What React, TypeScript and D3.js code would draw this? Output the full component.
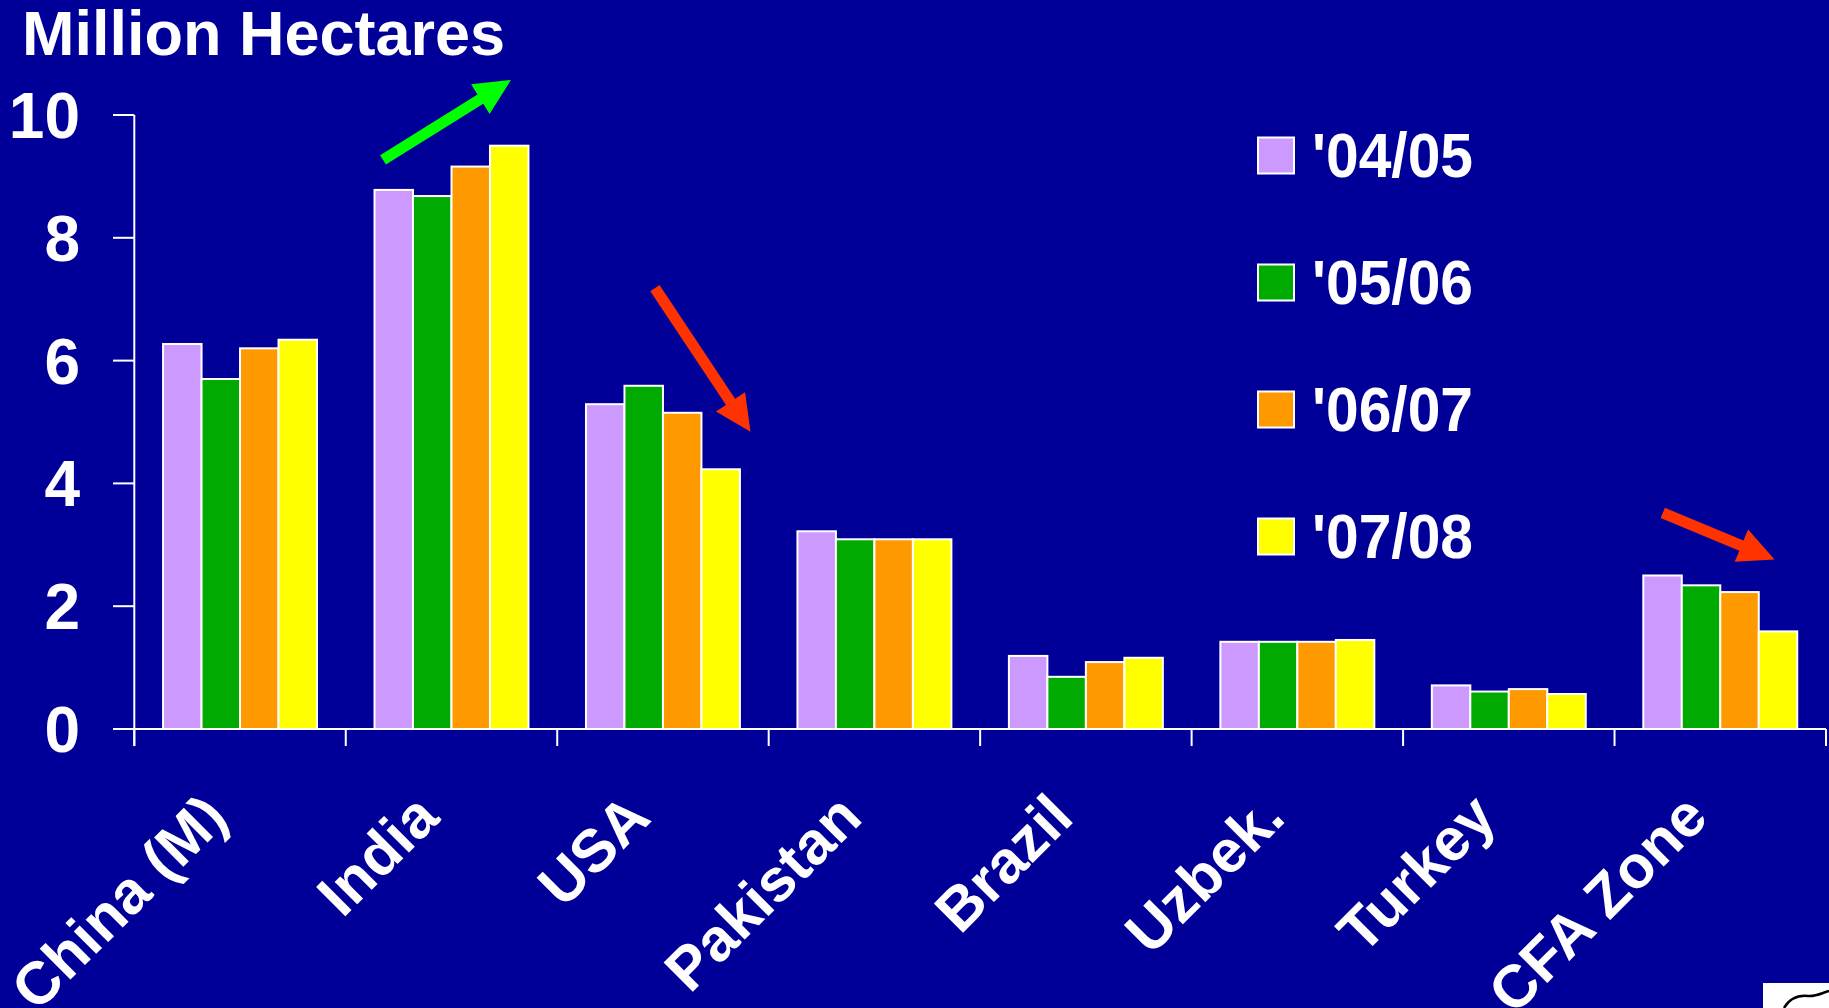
import React from "react";
import * as d3 from "d3";

const categories = ["China (M)", "India", "USA", "Pakistan", "Brazil", "Uzbek.", "Turkey", "CFA Zone"];
const seriesNames = ["'04/05", "'05/06", "'06/07", "'07/08"];
const s0405 = [6.27, 8.78, 5.29, 3.22, 1.19, 1.42, 0.71, 2.5];
const s0506 = [5.7, 8.68, 5.59, 3.09, 0.85, 1.42, 0.61, 2.34];
const s0607 = [6.2, 9.16, 5.15, 3.09, 1.09, 1.42, 0.65, 2.23];
const s0708 = [6.34, 9.5, 4.23, 3.09, 1.16, 1.45, 0.57, 1.59];
const seriesValues = [s0405, s0506, s0607, s0708];
const seriesColors = ["#CC99FF", "#00AA00", "#FF9900", "#FFFF00"];
const yTicks = [0, 2, 4, 6, 8, 10];
// annotation arrows in (category-index, value) space
const arrows = [
  { x1: 1.176, v1: 9.27, x2: 1.781, v2: 10.57, color: "#00FF00" },
  { x1: 2.462, v1: 7.18, x2: 2.914, v2: 4.84, color: "#FF3300" },
  { x1: 7.228, v1: 3.52, x2: 7.757, v2: 2.76, color: "#FF3300" },
];

const W = 1829;
const H = 1008;
const BG = "#000099";
const FONT = "'Liberation Sans', Arial, Helvetica, sans-serif";

function arrowPath(x1: number, y1: number, x2: number, y2: number) {
  const sw = 11, hl = 36, hw = 35;
  const dx = x2 - x1, dy = y2 - y1;
  const len = Math.hypot(dx, dy);
  const ux = dx / len, uy = dy / len;
  const nx = -uy, ny = ux;
  const bx = x2 - ux * hl, by = y2 - uy * hl;
  const pts = [
    [x1 + nx * sw / 2, y1 + ny * sw / 2],
    [bx + nx * sw / 2, by + ny * sw / 2],
    [bx + nx * hw / 2, by + ny * hw / 2],
    [x2, y2],
    [bx - nx * hw / 2, by - ny * hw / 2],
    [bx - nx * sw / 2, by - ny * sw / 2],
    [x1 - nx * sw / 2, y1 - ny * sw / 2],
  ];
  return "M" + pts.map((p) => p[0].toFixed(1) + "," + p[1].toFixed(1)).join("L") + "Z";
}

export default function App() {
  React.useEffect(() => {
    document.body.style.margin = "0";
  }, []);

  const left = 134.3;
  const right = 1826;
  const x0 = d3.scaleBand<string>().domain(categories).range([left, right]).paddingInner(0.272).paddingOuter(0.136);
  const x1 = d3.scaleBand<string>().domain(seriesNames).range([0, x0.bandwidth()]).padding(0);
  const xIdx = d3.scaleLinear().domain([0, categories.length]).range([left, right]);
  const y = d3.scaleLinear().domain([0, 10]).range([729, 115]);
  const y0 = y(0);

  return (
    <div style={{ position: "absolute", left: 0, top: 0, width: W, height: H }}>
      <svg width={W} height={H} style={{ display: "block", fontFamily: FONT }}>
        <rect x={0} y={0} width={W} height={H} fill={BG} />
        <text x={22} y={55} fill="#fff" fontSize={63} fontWeight="bold">Million Hectares</text>

        {/* bars */}
        {categories.map((c, ci) => (
          <g key={c} transform={`translate(${x0(c)},0)`}>
            {seriesNames.map((s, si) => {
              const v = seriesValues[si][ci];
              return (
                <rect
                  key={s}
                  x={x1(s)}
                  y={y(v)}
                  width={x1.bandwidth()}
                  height={y0 - y(v)}
                  fill={seriesColors[si]}
                  stroke="#fff"
                  strokeWidth={2}
                />
              );
            })}
          </g>
        ))}

        {/* y axis */}
        <line x1={left} x2={left} y1={y(10)} y2={y0 + 17} stroke="#fff" strokeWidth={2} />
        {yTicks.map((t) => (
          <g key={t}>
            <line x1={113} x2={left} y1={y(t)} y2={y(t)} stroke="#fff" strokeWidth={2} />
            <text x={80} y={y(t) + 23} fill="#fff" fontSize={64} fontWeight="bold" textAnchor="end">{t}</text>
          </g>
        ))}

        {/* x axis */}
        <line x1={113} x2={right} y1={y0} y2={y0} stroke="#fff" strokeWidth={2} />
        {d3.range(categories.length + 1).map((i) => (
          <line key={i} x1={xIdx(i)} x2={xIdx(i)} y1={y0} y2={y0 + 17} stroke="#fff" strokeWidth={2} />
        ))}
        {categories.map((c) => {
          const cx = (x0(c) as number) + x0.bandwidth() / 2 - 10;
          return (
            <text
              key={c}
              transform={`translate(${cx},820) rotate(-45)`}
              fill="#fff"
              fontSize={60}
              fontWeight="bold"
              textAnchor="end"
            >
              {c}
            </text>
          );
        })}

        {/* legend */}
        {seriesNames.map((s, i) => (
          <g key={s} transform={`translate(0,${i * 127})`}>
            <rect x={1258} y={137.5} width={36} height={36} fill={seriesColors[i]} stroke="#fff" strokeWidth={2} />
            <text x={1312} y={177.3} fill="#fff" fontSize={63} fontWeight="bold" textLength={161} lengthAdjust="spacingAndGlyphs">{s}</text>
          </g>
        ))}

        {/* arrows */}
        {arrows.map((a, i) => (
          <path key={i} d={arrowPath(xIdx(a.x1), y(a.v1), xIdx(a.x2), y(a.v2))} fill={a.color} />
        ))}

        {/* logo corner */}
        <rect x={1763} y={983} width={66} height={25} fill="#fff" />
        <path d="M1784,1008 C1790,998 1798,995 1808,996 C1815,997 1822,993 1829,991" stroke="#000" strokeWidth={2.5} fill="none" />
      </svg>
    </div>
  );
}
